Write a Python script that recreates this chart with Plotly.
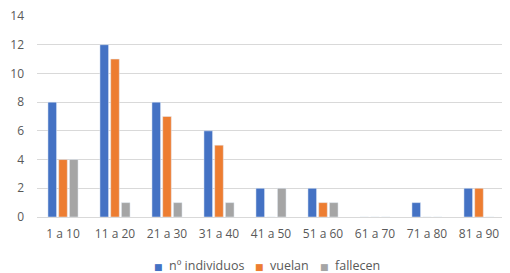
import plotly.graph_objects as go

categories = ["1 a 10", "11 a 20", "21 a 30", "31 a 40", "41 a 50", "51 a 60", "61 a 70", "71 a 80", "81 a 90"]
individuos = [8, 12, 8, 6, 2, 2, 0, 1, 2]
vuelan = [4, 11, 7, 5, 0, 1, 0, 0, 2]
fallecen = [4, 1, 1, 1, 2, 1, 0, 0, 0]
yticks = [0, 2, 4, 6, 8, 10, 12, 14]
series_names = ["nº individuos", "vuelan", "fallecen"]
colors = ["#4472C4", "#ED7D31", "#A5A5A5"]
legend_x = [0.2457, 0.4615, 0.6004]

fig = go.Figure()
for name, vals, col in zip(series_names, [individuos, vuelan, fallecen], colors):
    fig.add_trace(go.Bar(x=categories, y=vals, name=name, marker_color=col, showlegend=False))

# compact legend drawn as text (Excel-style spacing)
for name, col, lx in zip(series_names, colors, legend_x):
    fig.add_annotation(
        text=f"<span style='color:{col};font-family:DejaVu Sans;font-size:9px'>■</span>\u00a0\u00a0{name}",
        xref="paper", yref="paper", x=lx, y=-0.241, xanchor="left", yanchor="middle",
        showarrow=False, font=dict(size=12.5, color="#595959", family="Open Sans"))

# page body has an 8px margin, so the figure is sized to fit the 510x273 window
fig.update_layout(
    width=502, height=265,
    margin=dict(l=29, r=5, t=8, b=56, autoexpand=False),
    paper_bgcolor="white", plot_bgcolor="white",
    barmode="group", bargap=0.38, bargroupgap=0.2,
    font=dict(family="Open Sans", size=12, color="#595959"),
    showlegend=False,
)
fig.update_xaxes(showgrid=False, showline=False, ticks="", tickfont=dict(size=12),
                 automargin=False, ticklabelstandoff=8)
fig.update_yaxes(range=[0, 14], tickvals=yticks, showgrid=True, gridcolor="#D9D9D9", gridwidth=1,
                 zeroline=True, zerolinecolor="#D9D9D9", zerolinewidth=1, ticks="", ticklabelstandoff=12,
                 ticklabeloverflow="allow", tickfont=dict(size=12), automargin=False)

fig.write_html("out.html")
